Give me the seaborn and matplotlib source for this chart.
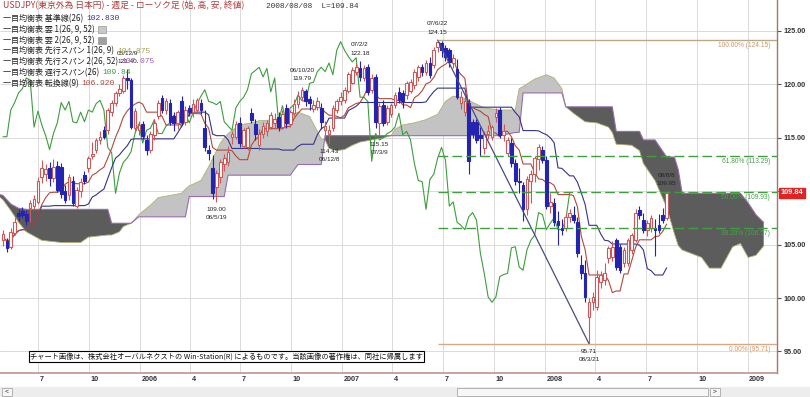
import numpy as np
import pandas as pd
import seaborn as sns
import matplotlib.pyplot as plt
from matplotlib.patches import Rectangle

# weekly candles (friday), first bar 2005-04-29
first_week = "2005-04-29"
open_px = [105.4, 105.3, 104.8, 106.1, 108.0, 108.1, 107.9, 108.4, 108.6, 109.0,
           111.3, 111.6, 112.2, 111.2, 112.4, 112.3, 110.0, 109.6, 111.0, 108.6,
           110.0, 111.5, 112.2, 113.3, 113.9, 114.8, 115.7, 115.7, 117.4, 118.3,
           119.2, 119.4, 120.6, 120.4, 115.9, 115.7, 116.3, 114.8, 113.9, 115.3,
           117.0, 118.7, 117.6, 118.3, 117.0, 116.4, 118.4, 116.5, 117.8, 117.4,
           117.6, 118.3, 115.9, 113.9, 112.2, 110.4, 111.3, 112.5, 112.7, 115.1,
           115.1, 116.4, 114.2, 114.1, 117.3, 116.3, 114.3, 115.4, 115.6, 116.0,
           116.4, 116.9, 116.0, 117.8, 116.3, 117.3, 118.2, 118.8, 119.4, 118.6,
           117.7, 117.9, 117.8, 115.7, 115.4, 115.9, 117.6, 118.4, 118.5, 119.4,
           120.1, 121.2, 121.5, 120.6, 121.6, 119.5, 120.7, 116.4, 118.1, 116.5,
           117.2, 118.1, 119.3, 119.2, 119.0, 119.4, 119.9, 120.7, 121.6, 121.2,
           122.0, 121.8, 123.5, 123.9, 123.4, 123.2, 122.0, 121.4, 118.3, 117.4,
           118.3, 116.5, 116.5, 115.3, 114.0, 115.4, 115.1, 116.9, 117.6, 115.3,
           113.6, 114.5, 112.6, 111.0, 110.6, 108.3, 111.0, 111.6, 113.0, 113.9,
           112.9, 108.6, 108.9, 107.2, 106.6, 106.6, 107.6, 107.8, 107.1, 103.1,
           102.3, 98.2, 99.6, 99.2, 101.5, 101.7, 103.7, 103.8, 105.4, 104.8,
           103.3, 103.3, 104.5, 105.4, 108.2, 107.3, 106.4, 106.6, 106.6, 106.8,
           107.8, 107.5]
high_px = [106.4, 105.6, 106.6, 107.6, 108.3, 108.5, 108.2, 109.2, 109.6, 111.3,
           112.9, 112.5, 112.7, 113.0, 112.8, 112.6, 110.6, 111.6, 111.4, 110.4,
           111.2, 111.9, 113.3, 114.6, 115.0, 115.6, 116.1, 117.8, 118.5, 119.4,
           120.0, 120.9, 121.4, 120.6, 117.8, 116.6, 116.6, 115.3, 115.6, 116.8,
           118.5, 119.0, 118.7, 118.6, 117.4, 117.6, 118.9, 118.0, 118.1, 118.6,
           118.7, 118.6, 117.6, 114.3, 113.4, 112.0, 113.0, 113.5, 114.2, 115.6,
           116.6, 116.9, 115.9, 116.1, 117.8, 116.8, 115.8, 116.5, 116.7, 117.4,
           117.3, 117.4, 117.6, 118.2, 117.6, 118.6, 119.4, 119.79, 119.6, 118.9,
           118.5, 118.8, 118.3, 116.6, 116.2, 118.1, 118.6, 119.3, 119.8, 121.2,
           121.6, 122.0, 122.18, 121.8, 121.9, 121.0, 121.0, 118.3, 118.5, 118.1,
           118.3, 119.3, 119.8, 119.5, 120.3, 120.5, 121.4, 121.8, 121.9, 122.3,
           122.6, 123.5, 124.15, 124.1, 123.7, 123.4, 122.8, 122.4, 119.4, 119.3,
           118.6, 116.8, 116.8, 116.0, 115.6, 116.2, 116.2, 117.8, 117.9, 116.3,
           115.1, 115.0, 113.0, 112.2, 110.9, 111.4, 112.0, 113.3, 114.4, 114.2,
           113.3, 109.8, 109.4, 108.1, 107.4, 108.0, 108.3, 108.6, 107.6, 104.0,
           103.6, 100.0, 100.6, 102.6, 102.5, 103.3, 104.9, 105.3, 105.6, 105.1,
           104.8, 105.6, 106.1, 108.3, 108.6, 108.0, 107.3, 107.8, 107.4, 107.9,
           108.4, 109.95]
low_px = [104.9, 104.3, 104.6, 105.9, 107.2, 107.5, 106.8, 107.1, 108.3, 108.8,
          110.8, 111.0, 110.5, 110.9, 109.9, 109.4, 108.9, 109.2, 108.6, 108.4,
          109.5, 110.7, 111.8, 113.0, 113.6, 114.4, 114.9, 115.4, 117.0, 118.0,
          118.9, 119.2, 119.6, 115.8, 115.5, 115.3, 114.9, 113.4, 113.6, 114.8,
          116.8, 117.3, 117.2, 116.2, 115.6, 115.8, 116.2, 116.2, 117.0, 116.9,
          117.3, 117.2, 113.8, 112.9, 109.3, 109.0, 110.8, 111.9, 112.4, 114.4,
          114.9, 114.1, 114.0, 113.9, 116.4, 114.8, 113.9, 115.0, 115.2, 115.8,
          115.9, 115.6, 115.8, 115.9, 116.0, 117.0, 117.8, 118.4, 118.0, 117.6,
          117.4, 117.6, 115.8, 115.0, 114.43, 115.6, 117.3, 118.1, 118.3, 119.2,
          120.0, 120.9, 120.3, 120.3, 119.0, 119.2, 115.9, 115.15, 116.1, 116.2,
          116.9, 117.8, 118.3, 117.8, 118.6, 119.2, 119.6, 120.3, 120.8, 120.9,
          120.6, 121.5, 123.0, 122.6, 122.2, 121.6, 121.5, 118.6, 117.7, 117.0,
          111.58, 115.0, 114.5, 113.3, 113.5, 114.9, 114.8, 116.5, 115.0, 114.7,
          113.3, 112.3, 110.6, 109.8, 107.2, 107.8, 108.9, 110.9, 112.0, 112.6,
          108.3, 108.0, 106.7, 104.97, 105.9, 106.3, 107.1, 107.0, 103.8, 101.8,
          99.6, 95.71, 98.9, 98.9, 100.9, 101.2, 103.3, 103.5, 102.6, 102.3,
          102.9, 103.0, 104.1, 105.2, 107.4, 106.1, 105.8, 106.2, 103.89, 106.1,
          107.0, 107.3]
close_px = [106.0, 104.7, 106.2, 107.1, 107.7, 107.8, 107.2, 108.9, 109.3, 111.0,
            112.2, 112.1, 111.2, 112.3, 110.1, 109.7, 109.2, 111.3, 108.9, 110.1,
            110.9, 111.0, 113.1, 113.5, 114.8, 115.1, 115.1, 117.6, 118.3, 119.2,
            119.6, 120.6, 120.4, 116.0, 117.5, 116.2, 115.2, 113.9, 115.4, 116.4,
            118.3, 117.6, 118.4, 116.5, 116.4, 117.4, 116.5, 117.6, 117.4, 118.2,
            118.5, 117.6, 114.1, 113.6, 109.8, 111.7, 112.7, 113.1, 113.7, 115.4,
            116.3, 114.5, 115.7, 115.9, 116.7, 115.4, 115.4, 116.1, 116.4, 117.1,
            116.8, 116.0, 117.2, 116.4, 117.4, 118.2, 118.9, 119.5, 118.4, 118.3,
            118.1, 118.4, 116.5, 116.1, 115.7, 117.8, 118.4, 118.8, 119.5, 121.0,
            121.3, 121.6, 120.7, 121.5, 119.3, 120.6, 116.5, 118.0, 116.4, 117.8,
            118.1, 119.0, 118.5, 118.4, 120.1, 120.2, 121.2, 121.6, 121.2, 122.0,
            120.9, 123.2, 124.0, 123.2, 122.6, 122.1, 122.5, 118.8, 118.8, 118.4,
            112.8, 115.4, 114.8, 115.0, 115.4, 115.6, 116.0, 117.3, 115.3, 115.6,
            114.8, 112.6, 111.0, 110.9, 108.3, 111.1, 111.6, 113.1, 114.1, 112.9,
            108.6, 109.0, 107.1, 106.8, 106.4, 107.6, 108.0, 107.3, 104.2, 102.3,
            100.1, 99.6, 100.1, 102.0, 102.2, 102.3, 104.7, 104.8, 102.9, 102.6,
            104.5, 105.4, 105.9, 108.0, 107.8, 106.4, 107.0, 107.5, 106.4, 106.4,
            107.3, 109.84]

# 先行スパン (cloud), week index counted from first_week
cloud_week = [-1, 0, 2, 4, 6, 10, 15, 20, 22, 27, 28, 30, 31, 33, 35, 38, 40, 46, 47, 48,
              51, 53, 56, 57, 58, 61, 64, 66, 71, 74, 76, 79, 82, 83, 84, 86, 88, 90, 92, 95,
              98, 100, 101, 103, 106, 109, 112, 114, 116, 118, 120, 124, 128, 132, 133, 134, 137, 140, 142, 144,
              145, 147, 150, 153, 156, 157, 158, 162, 164, 165, 168, 171, 173, 174, 175, 180, 182, 185, 188, 190,
              192, 194, 196]
span1 = [109.5, 109.2, 108.2, 107.1, 106.2, 105.4, 105.2, 105.2, 105.7, 105.9, 105.9, 106.2, 106.7, 107.0, 107.8, 108.7, 109.4, 109.8, 110.2, 110.5,
         111.0, 112.3, 114.5, 115.0, 115.4, 116.2, 116.4, 116.6, 116.7, 117.0, 117.4, 117.0, 114.9, 114.8, 114.0, 113.8, 113.9, 114.3, 114.6, 114.8,
         115.0, 115.2, 115.8, 116.2, 116.4, 116.7, 117.2, 118.4, 118.9, 118.8, 118.5, 117.8, 117.6, 117.6, 119.6, 119.8, 120.5, 120.9, 120.6, 119.6,
         117.9, 117.3, 116.5, 116.4, 116.0, 115.5, 114.4, 114.3, 113.8, 112.6, 111.0, 108.5, 106.0, 104.9, 104.5, 103.8, 102.8, 102.8, 104.8, 105.1,
         103.8, 104.0, 104.875]
span2 = [109.7, 109.6, 108.8, 108.4, 108.3, 108.3, 108.3, 108.3, 108.3, 108.3, 107.0, 107.0, 107.0, 107.0, 107.6, 107.6, 107.6, 107.6, 107.6, 109.5,
         109.5, 109.5, 109.5, 109.5, 111.5, 111.5, 111.5, 111.5, 111.5, 111.5, 112.5, 112.5, 112.5, 115.2, 115.2, 115.2, 115.2, 115.2, 115.2, 115.2,
         115.2, 115.2, 115.2, 115.2, 115.2, 115.2, 115.2, 115.2, 115.2, 115.2, 115.2, 115.2, 115.2, 115.5, 115.5, 119.2, 119.2, 119.2, 119.2, 119.2,
         117.9, 117.9, 117.9, 117.9, 117.9, 117.9, 115.6, 115.6, 115.6, 114.8, 114.8, 113.2, 113.2, 112.0, 109.8, 109.8, 109.8, 109.8, 109.8, 109.8,
         108.9, 107.8, 107.075]

fib_levels = [124.15, 113.29, 109.93, 106.57, 95.71]
fib_labels = ["100.00% (124.15)", "61.80% (113.29)", "50.00% (109.93)", "38.20% (106.57)", "0.00% (95.71)"]

peak_weeks = [32, 77, 92, 112, 171]
peak_names = ["05/12/9", "06/10/20", "07/2/2", "07/6/22", "08/8/8"]
trough_weeks = [55, 84, 97, 151]
trough_names = ["06/5/19", "06/12/8", "07/3/9", "08/3/21"]

tick_dates = ["2005-07-01", "2005-10-01", "2006-01-01", "2006-04-01", "2006-07-01",
              "2006-10-01", "2007-01-01", "2007-04-01", "2007-07-01", "2007-10-01",
              "2008-01-01", "2008-04-01", "2008-07-01", "2008-10-01", "2009-01-01"]
tick_labels = ["7", "10", "2006", "4", "7", "10", "2007", "4", "7", "10", "2008", "4", "7", "10", "2009"]
price_ticks = [95, 100, 105, 110, 115, 120, 125]

legend_names = ["一目均衡表 基準線(26)", "一目均衡表 雲 1(26, 9, 52)", "一目均衡表 雲 2(26, 9, 52)",
                "一目均衡表 先行スパン 1(26, 9)", "一目均衡表 先行スパン 2(26, 52)",
                "一目均衡表 遅行スパン(26)", "一目均衡表 転換線(9)"]
legend_values = ["102.830", "", "", "104.875", "107.075", "109.84", "106.920"]

sns.set_style("white")
plt.rcParams["font.family"] = ["Noto Sans CJK JP", "DejaVu Sans"]
num_font = ["Liberation Sans", "DejaVu Sans"]
mono_font = ["Liberation Mono", "DejaVu Sans Mono"]

C_UP = "#c85a5a"
C_DN = "#2424b0"
C_TENKAN = "#b04a3c"
C_KIJUN = "#34348a"
C_CHIKOU = "#3c9e3c"
C_SPAN1 = "#b0b070"
C_SPAN2 = "#9a6cb0"
C_FIB = "#3f9f3f"

W, H = 810, 397
fig = plt.figure(figsize=(W / 100, H / 100), dpi=100)
ax = fig.add_axes([0, 24 / H, 777 / W, 373 / H])

dates = pd.date_range(first_week, periods=len(close_px), freq="7D")
df = pd.DataFrame({"date": dates, "open": open_px, "high": high_px,
                   "low": low_px, "close": close_px})
df["tenkan"] = (df["high"].rolling(9, min_periods=1).max() + df["low"].rolling(9, min_periods=1).min()) / 2
df["kijun"] = (df["high"].rolling(26, min_periods=1).max() + df["low"].rolling(26, min_periods=1).min()) / 2

start = pd.Timestamp(first_week)
x_left = start - pd.Timedelta(days=5.4)
x_right = start + pd.Timedelta(days=1396)

# cloud
cdates = start + pd.to_timedelta(np.array(cloud_week) * 7, unit="D")
s1 = np.array(span1)
s2 = np.array(span2)
ax.fill_between(cdates, s1, s2, where=s1 >= s2, interpolate=True, color="#c3c3c3", lw=0, zorder=1)
ax.fill_between(cdates, s1, s2, where=s1 <= s2, interpolate=True, color="#5c5c5c", lw=0, zorder=1)
sns.lineplot(x=cdates, y=s1, ax=ax, color=C_SPAN1, linewidth=0.6, estimator=None, sort=False, zorder=2)
sns.lineplot(x=cdates, y=s2, ax=ax, color=C_SPAN2, linewidth=0.8, estimator=None, sort=False, zorder=2)

# chikou (shifted back 25 bars, as the chart does)
chikou = pd.DataFrame({"date": dates[:-25], "val": df["close"].values[25:]})
sns.lineplot(data=chikou, x="date", y="val", ax=ax, color=C_CHIKOU, linewidth=0.8, zorder=3)
sns.lineplot(data=df, x="date", y="kijun", ax=ax, color=C_KIJUN, linewidth=0.8, zorder=3)
sns.lineplot(data=df, x="date", y="tenkan", ax=ax, color=C_TENKAN, linewidth=0.8, zorder=3)

# candles
up = (df["close"] >= df["open"]).values
lo = np.minimum(df["open"], df["close"]).values
hgt = np.maximum(np.abs(df["close"] - df["open"]).values, 0.08)
ax.vlines(df["date"], df["low"], df["high"], colors=np.where(up, C_UP, C_DN), lw=0.8, zorder=4)
ax.bar(df["date"][up], hgt[up], bottom=lo[up], width=4.8, facecolor="white",
       edgecolor=C_UP, linewidth=0.8, zorder=5)
ax.bar(df["date"][~up], hgt[~up], bottom=lo[~up], width=4.8, facecolor=C_DN,
       edgecolor=C_DN, linewidth=0.8, zorder=5)

# fibonacci retracement from the 07/6/22 top to the 08/3/21 bottom
top_i = peak_weeks[3]
bot_i = trough_weeks[3]
ax.plot([dates[top_i], dates[bot_i]], [high_px[top_i], low_px[bot_i]], color="#4a4a86", lw=0.9, zorder=6)
fib_colors = ["#b8a888", C_FIB, C_FIB, C_FIB, "#d8a888"]
fib_text_colors = ["#c89868", "#4aa04a", "#4aa04a", "#4aa04a", "#d89868"]
for lev, lab, c, tc in zip(fib_levels, fib_labels, fib_colors, fib_text_colors):
    ls = "-" if c != C_FIB else (0, (7, 3))
    ax.hlines(lev, dates[top_i], x_right, colors=c, linestyles=ls, lw=1.0, zorder=6)
    ax.annotate(lab, xy=(0.991, lev), xycoords=("axes fraction", "data"), xytext=(0, -1.5),
                textcoords="offset points", ha="right", va="top", fontsize=4.8,
                color=tc, family=num_font, zorder=7)

# high / low labels
for wk, nm in zip(peak_weeks, peak_names):
    ax.annotate(f"{high_px[wk]:.2f}", xy=(dates[wk], high_px[wk]), xytext=(0, 5.8),
                textcoords="offset points", ha="center", va="center", fontsize=4.6,
                family=num_font, color="#222222", zorder=8)
    ax.annotate(nm, xy=(dates[wk], high_px[wk]), xytext=(0, 11.6),
                textcoords="offset points", ha="center", va="center", fontsize=4.6,
                family=num_font, color="#222222", zorder=8)
for wk, nm in zip(trough_weeks, trough_names):
    ax.annotate(f"{low_px[wk]:.2f}", xy=(dates[wk], low_px[wk]), xytext=(0, -5.8),
                textcoords="offset points", ha="center", va="center", fontsize=4.6,
                family=num_font, color="#222222", zorder=8)
    ax.annotate(nm, xy=(dates[wk], low_px[wk]), xytext=(0, -11.6),
                textcoords="offset points", ha="center", va="center", fontsize=4.6,
                family=num_font, color="#222222", zorder=8)

# axes look
ax.set_xlim(x_left, x_right)
ax.set_ylim(92.98, 127.9)
tick_ts = pd.to_datetime(tick_dates)
ax.set_xticks(tick_ts)
ax.set_yticks(price_ticks)
ax.grid(True, color="#dadada", lw=0.7)
ax.set_axisbelow(True)
ax.set_xlabel("")
ax.set_ylabel("")
for side in ["left", "top"]:
    ax.spines[side].set_visible(False)
ax.spines["bottom"].set_color("#c0948a")
ax.spines["bottom"].set_linewidth(1.2)
ax.spines["right"].set_color("#a07868")
ax.spines["right"].set_linewidth(1.0)
ax.tick_params(axis="x", direction="out", length=6, width=0.8, color="#555555", labelbottom=False)
ax.yaxis.tick_right()
# the 110.00 label sits under the last-price tag in the original
ax.set_yticklabels(["" if v == 110 else f"{v:.2f}" for v in price_ticks])
ax.tick_params(axis="y", direction="out", length=3, width=0.8, color="#555555", pad=1.5,
               labelsize=5.2, labelcolor="#333333")
for lbl in ax.get_yticklabels():
    lbl.set_family(num_font)
    lbl.set_weight("bold")
for t, lab in zip(tick_ts, tick_labels):
    ax.annotate(lab, xy=(t, 0), xycoords=("data", "axes fraction"), xytext=(1.2, -2.2),
                textcoords="offset points", ha="left", va="top", fontsize=5.2,
                family=num_font, weight="bold", color="#333333", annotation_clip=False)

# last price tag
ax.annotate(f"{close_px[-1]:.2f}", xy=(1, close_px[-1]), xycoords=("axes fraction", "data"),
            xytext=(2.6, 0), textcoords="offset points", ha="left", va="center",
            fontsize=5.3, weight="bold", color="white", family=num_font, annotation_clip=False,
            bbox=dict(boxstyle="square,pad=0.25", fc="#e02424", ec="#e02424"), zorder=9)

# legend block
def fx(px):
    return px / W

def fy(py):
    return 1 - py / H

fig.text(fx(3), fy(6), "USDJPY(東京外為 日本円) - 週足 - ローソク足 (始, 高, 安, 終値)",
         fontsize=6.3, color="#b03a3a", va="center", zorder=10)
fig.text(fx(266), fy(6), "2008/08/08  L=109.84", fontsize=5.6, color="#333333", va="center",
         family=mono_font, zorder=10)
value_colors = [C_KIJUN, None, None, "#a0a050", "#9060a8", C_CHIKOU, C_TENKAN]
cloud_icon = [None, "#c8c8c8", "#a0a0a0", None, None, None, None]
renderer = fig.canvas.get_renderer()
for k, (nm, val) in enumerate(zip(legend_names, legend_values)):
    yy = 19 + k * 10.7
    t = fig.text(fx(3), fy(yy), nm, fontsize=5.8, color="#222222", va="center", zorder=10)
    x1 = t.get_window_extent(renderer).x1 + 3
    if val:
        fig.text(x1 / W, fy(yy), val, fontsize=5.8, color=value_colors[k], va="center",
                 family=mono_font, zorder=10)
    if cloud_icon[k]:
        fig.add_artist(Rectangle((x1 / W, fy(yy + 3.5)), 8 / W, 7 / H, transform=fig.transFigure,
                                 fc=cloud_icon[k], ec="#888888", lw=0.4, zorder=10))

# copyright notice
fig.text(fx(30), fy(356.5),
         "チャート画像は、株式会社オーバルネクストの Win-Station(R) によるものです。当該画像の著作権は、同社に帰属します",
         fontsize=5.2, color="#111111", va="center", ha="left", zorder=10,
         bbox=dict(boxstyle="square,pad=0.2", fc="white", ec="black", lw=0.8))

# scroll bar strip
fig.add_artist(Rectangle((0, 0), 1, 10 / H, transform=fig.transFigure, fc="#ededed", ec="none", zorder=0))
fig.add_artist(Rectangle((fx(457), fy(396)), 251 / W, 8 / H, transform=fig.transFigure,
                         fc="#f6f6f6", ec="#a8a8a8", lw=0.6, zorder=1))
fig.add_artist(Rectangle((fx(2), fy(396)), 10 / W, 8 / H, transform=fig.transFigure,
                         fc="#f6f6f6", ec="#a8a8a8", lw=0.6, zorder=1))
fig.add_artist(Rectangle((fx(710), fy(396)), 10 / W, 8 / H, transform=fig.transFigure,
                         fc="#f6f6f6", ec="#a8a8a8", lw=0.6, zorder=1))
fig.text(fx(7), fy(392), "<", fontsize=5, ha="center", va="center", color="#333333")
fig.text(fx(715), fy(392), ">", fontsize=5, ha="center", va="center", color="#333333")

fig.savefig("out.png", dpi=100)
